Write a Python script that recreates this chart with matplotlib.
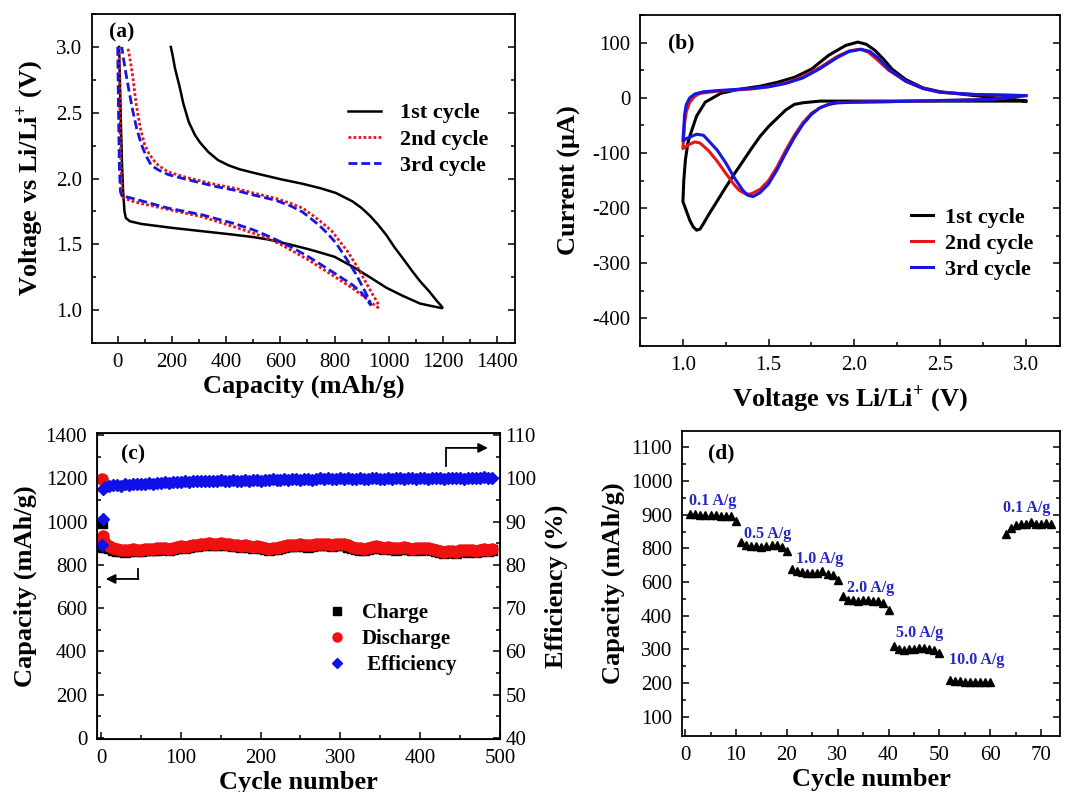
import numpy as np
import matplotlib
matplotlib.use('Agg')
import matplotlib.pyplot as plt
from matplotlib.ticker import MultipleLocator, FixedLocator, FixedFormatter
from matplotlib.lines import Line2D

plt.rcParams['font.family'] = ['Liberation Serif', 'DejaVu Serif']
plt.rcParams['mathtext.fontset'] = 'custom'
plt.rcParams['mathtext.rm'] = 'Liberation Serif'
plt.rcParams['mathtext.bf'] = 'Liberation Serif:bold'
plt.rcParams['axes.unicode_minus'] = False

# (a) charge/discharge profiles
cap_1st = [5, 8, 12, 16, 20, 25, 30, 45, 87, 200, 310, 420, 500, 560, 632, 700, 743, 800, 867, 930, 991, 1050, 1115, 1160, 1196,
           1198, 1190, 1177, 1150, 1115, 1085, 1053, 1020, 991, 960, 929, 900, 867, 805, 750, 682, 600, 508, 450, 409, 370,
           335, 305, 285, 262, 242, 228, 217, 211, 204, 196]
volt_1st = [3.00, 2.75, 2.40, 2.10, 1.90, 1.75, 1.70, 1.675, 1.655, 1.625, 1.60, 1.575, 1.555, 1.535, 1.50, 1.465, 1.44, 1.405,
            1.33, 1.25, 1.17, 1.11, 1.05, 1.03, 1.015,
            1.02, 1.04, 1.07, 1.14, 1.22, 1.30, 1.39, 1.48, 1.57, 1.65, 1.72, 1.775, 1.825, 1.89, 1.925, 1.96, 1.995, 2.04, 2.07,
            2.10, 2.14, 2.20, 2.27, 2.33, 2.43, 2.57, 2.70, 2.79, 2.84, 2.92, 3.00]
cap_2nd = [5, 8, 12, 15, 20, 50, 87, 186, 310, 434, 520, 558, 600, 644, 700, 743, 800, 867, 910, 940, 960,
           962, 955, 940, 929, 905, 880, 850, 820, 790, 756, 720, 682, 640, 582, 500, 434, 360, 310, 250, 186, 150, 136,
           115, 99, 85, 74, 64, 56, 46, 37]
volt_2nd = [3.0, 2.5, 2.1, 1.9, 1.855, 1.83, 1.81, 1.765, 1.71, 1.63, 1.57, 1.54, 1.50, 1.45, 1.385, 1.33, 1.255, 1.165,
            1.10, 1.05, 1.02,
            1.04, 1.07, 1.12, 1.16, 1.25, 1.34, 1.44, 1.52, 1.60, 1.66, 1.72, 1.775, 1.81, 1.85, 1.89, 1.925, 1.955, 1.98,
            2.01, 2.05, 2.10, 2.13, 2.19, 2.26, 2.37, 2.49, 2.63, 2.77, 2.90, 3.0]
cap_3rd = [0, 3, 6, 10, 15, 62, 186, 310, 434, 500, 558, 600, 644, 700, 743, 800, 867, 900, 920, 929, 933,
           930, 925, 910, 880, 850, 805, 775, 743, 710, 682, 640, 582, 500, 434, 360, 310, 250, 186, 150, 124, 105, 87,
           70, 56, 43, 31, 22, 15]
volt_3rd = [3.0, 2.5, 2.1, 1.9, 1.87, 1.845, 1.775, 1.725, 1.655, 1.61, 1.56, 1.52, 1.475, 1.41, 1.355, 1.28, 1.19,
            1.13, 1.08, 1.05, 1.04,
            1.06, 1.09, 1.15, 1.27, 1.37, 1.51, 1.58, 1.645, 1.70, 1.745, 1.79, 1.835, 1.875, 1.91, 1.94, 1.965, 1.995,
            2.03, 2.065, 2.10, 2.17, 2.26, 2.38, 2.51, 2.65, 2.79, 2.90, 3.0]

# (b) cyclic voltammetry
cv_v_1st = [3.0, 2.5, 2.0, 1.8, 1.7, 1.65, 1.6, 1.55, 1.5, 1.45, 1.4, 1.35, 1.3, 1.25, 1.2, 1.15, 1.12, 1.1, 1.08, 1.06,
            1.04, 1.02, 1.0,
            1.005, 1.015, 1.03, 1.045, 1.08, 1.13, 1.22, 1.32, 1.45, 1.55, 1.65, 1.75, 1.85, 1.95, 2.02, 2.07, 2.12, 2.17,
            2.22, 2.3, 2.4, 2.5, 2.7, 2.9, 3.0]
cv_i_1st = [-6, -6, -6, -6, -9, -12, -22, -37, -52, -70, -92, -115, -138, -162, -187, -212, -228, -238, -240, -234,
            -222, -205, -188,
            -150, -111, -80, -65, -33, -8, 8, 15, 21, 28, 37, 52, 77, 95, 101, 97, 86, 70, 52, 33, 18, 11, 4, -2, -6]
cv_v_2nd = [3.0, 2.8, 2.5, 2.2, 2.0, 1.9, 1.85, 1.8, 1.75, 1.7, 1.65, 1.6, 1.55, 1.5, 1.45, 1.4, 1.37, 1.33, 1.3, 1.25,
            1.2, 1.15, 1.1, 1.07, 1.04, 1.02, 1.0,
            1.005, 1.01, 1.02, 1.04, 1.07, 1.1, 1.2, 1.3, 1.4, 1.5, 1.6, 1.7, 1.8, 1.9, 1.97, 2.03, 2.08, 2.13, 2.2, 2.3,
            2.4, 2.5, 2.7, 3.0]
cv_i_2nd = [4, -3, -5, -7, -8, -9, -12, -18, -28, -45, -68, -95, -125, -150, -166, -174, -175, -168, -158, -137,
            -115, -96, -82, -80, -84, -88, -92,
            -70, -45, -25, -8, 3, 8, 12, 14, 16, 20, 27, 38, 55, 75, 85, 88, 83, 70, 50, 30, 17, 10, 6, 4]
cv_v_3rd = [3.0, 2.8, 2.5, 2.2, 2.0, 1.9, 1.85, 1.8, 1.75, 1.7, 1.65, 1.6, 1.55, 1.5, 1.45, 1.41, 1.38, 1.35, 1.3, 1.25,
            1.2, 1.15, 1.12, 1.08, 1.05, 1.02, 1.0,
            1.005, 1.01, 1.02, 1.04, 1.07, 1.12, 1.2, 1.3, 1.4, 1.5, 1.6, 1.7, 1.8, 1.9, 1.97, 2.04, 2.09, 2.14, 2.2, 2.3,
            2.4, 2.5, 2.7, 3.0]
cv_i_3rd = [4, -3, -5, -7, -8, -9, -12, -18, -30, -48, -72, -100, -130, -156, -172, -179, -177, -168, -145, -118,
            -95, -78, -68, -66, -70, -74, -78,
            -55, -30, -12, 0, 7, 11, 13, 15, 17, 20, 26, 36, 53, 73, 84, 88, 84, 72, 52, 30, 17, 10, 6, 4]

# (c) long cycling
cycles_c = [1, 2, 3] + list(range(5, 491, 5))
discharge = [1195, 935, 915,
             900, 888, 880, 874, 870, 868, 870, 872, 869, 871,
             873, 875, 872, 876, 879, 877, 874, 879, 883, 886,
             884, 889, 891, 893, 896, 899, 901, 898, 896, 900,
             897, 899, 894, 892, 889, 891, 887, 884, 886, 882,
             879, 874, 877, 880, 884, 887, 891, 894, 892, 896,
             893, 890, 894, 897, 895, 898, 896, 893, 897, 899,
             895, 890, 884, 880, 876, 874, 879, 883, 886, 884,
             880, 883, 879, 876, 880, 882, 877, 874, 878, 876,
             880, 877, 872, 868, 864, 861, 863, 866, 862, 868,
             871, 867, 870, 866, 869, 873, 870, 872]
charge = [995, 885, 890,
          884, 876, 871, 866, 864, 862, 865, 867, 864, 866,
          868, 870, 867, 871, 874, 872, 869, 874, 878, 881,
          879, 884, 886, 888, 891, 894, 896, 893, 891, 895,
          892, 894, 889, 887, 884, 886, 882, 879, 881, 877,
          874, 869, 872, 875, 879, 882, 886, 889, 887, 891,
          888, 885, 889, 892, 890, 893, 891, 888, 892, 894,
          890, 885, 879, 875, 871, 869, 874, 878, 881, 879,
          875, 878, 874, 871, 875, 877, 872, 869, 873, 871,
          875, 872, 867, 863, 859, 856, 858, 861, 857, 863,
          866, 862, 865, 861, 864, 868, 865, 867]
efficiency = [84.5, 90.5, 97.6,
              98.0, 98.2, 98.4, 98.5, 98.3, 98.6, 98.5, 98.7, 98.6, 98.8,
              98.7, 98.9, 98.8, 99.0, 98.9, 99.1, 99.0, 99.2, 99.1, 99.2,
              99.3, 99.2, 99.4, 99.3, 99.5, 99.4, 99.3, 99.5, 99.4, 99.6,
              99.5, 99.4, 99.6, 99.5, 99.4, 99.6, 99.5, 99.7, 99.6, 99.5,
              99.7, 99.6, 99.8, 99.7, 99.6, 99.8, 99.7, 99.9, 99.8, 99.7,
              99.9, 99.8, 99.7, 99.9, 100.0, 99.8, 100.1, 99.9, 99.8, 100.0,
              99.9, 100.1, 99.9, 99.8, 100.0, 99.9, 99.8, 100.0, 100.1, 99.9,
              99.8, 100.0, 99.9, 100.1, 100.0, 99.8, 100.0, 100.2, 99.9, 100.0,
              100.1, 99.9, 100.0, 100.2, 100.0, 99.9, 100.1, 100.0, 100.2, 100.1,
              99.9, 100.1, 100.2, 100.0, 100.1, 100.3, 100.1, 100.2]

# (d) rate capability
rate_cycles = [1, 2, 3, 4, 5, 6, 7, 8, 9, 10,
               11, 12, 13, 14, 15, 16, 17, 18, 19, 20,
               21, 22, 23, 24, 25, 26, 27, 28, 29, 30,
               31, 32, 33, 34, 35, 36, 37, 38, 39, 40,
               41, 42, 43, 44, 45, 46, 47, 48, 49, 50,
               52, 53, 54, 55, 56, 57, 58, 59, 60,
               63, 64, 65, 66, 67, 68, 69, 70, 71, 72]
rate_capacity = [902, 902, 900, 898, 898, 898, 895, 895, 896, 880,
                 820, 810, 808, 806, 805, 808, 809, 809, 805, 787,
                 680, 664, 658, 654, 654, 654, 664, 650, 644, 614,
                 514, 494, 490, 488, 490, 490, 488, 484, 478, 432,
                 310, 300, 298, 300, 300, 303, 303, 300, 298, 288,
                 209, 206, 205, 204, 203, 203, 204, 204, 202,
                 842, 862, 870, 872, 872, 877, 872, 872, 875, 872]
rate_labels = ['0.1 A/g', '0.5 A/g', '1.0 A/g', '2.0 A/g', '5.0 A/g', '10.0 A/g', '0.1 A/g']
rate_label_x = [5.5, 16.3, 26.4, 36.5, 46.1, 57.4, 67.1]
rate_label_y = [940, 842, 736, 564, 348, 267, 920]
# tick labels on (d) are not evenly spaced in value
d_tick_values = [100, 200, 300, 400, 600, 800, 900, 1000, 1100]

fig = plt.figure(figsize=(10.68, 7.92), dpi=100)
ax_a = fig.add_axes([0.0861, 0.5669, 0.3960, 0.4154])
ax_b = fig.add_axes([0.5993, 0.5631, 0.3933, 0.4179])
ax_c = fig.add_axes([0.0908, 0.0669, 0.3773, 0.3864])
ax_d = fig.add_axes([0.6386, 0.0707, 0.3539, 0.3851])

tick_fs = 15
label_fs = 19
leg_fs = 16


def style(ax, right=True):
    ax.tick_params(which='both', direction='in', labelsize=tick_fs, width=1.1, right=right, top=False)
    ax.tick_params(which='major', length=5, pad=7)
    ax.tick_params(which='minor', length=3)
    for s in ax.spines.values():
        s.set_linewidth(1.3)


# panel a
ax_a.plot(cap_1st, volt_1st, color='black', lw=1.8, label='1st cycle')
ax_a.plot(cap_2nd, volt_2nd, color='#e8141c', lw=2.0, dashes=(1.0, 0.8), label='2nd cycle')
ax_a.plot(cap_3rd, volt_3rd, color='#1616e0', lw=2.0, dashes=(3.2, 1.4), label='3rd cycle')
ax_a.set_xlim(-95, 1465)
ax_a.set_ylim(0.75, 3.25)
ax_a.xaxis.set_major_locator(MultipleLocator(200))
ax_a.xaxis.set_minor_locator(MultipleLocator(100))
ax_a.yaxis.set_major_locator(MultipleLocator(0.5))
ax_a.yaxis.set_minor_locator(MultipleLocator(0.25))
style(ax_a)
ax_a.set_xlabel('Capacity (mAh/g)', fontsize=label_fs, fontweight='bold', labelpad=2)
ax_a.set_ylabel('Voltage vs Li/Li$^{\\mathbf{+}}$ (V)', fontsize=label_fs, fontweight='bold', labelpad=8)
ax_a.text(0.041, 0.945, '(a)', transform=ax_a.transAxes, fontsize=15.5, fontweight='bold', va='center')
ax_a.legend(loc='upper left', bbox_to_anchor=(0.605, 0.73), frameon=False,
            prop={'weight': 'bold', 'size': leg_fs}, handlelength=1.5, handletextpad=0.85,
            labelspacing=0.25, borderpad=0, borderaxespad=0)

# panel b
ax_b.plot(cv_v_1st, cv_i_1st, color='black', lw=2.2, label='1st cycle')
ax_b.plot(cv_v_2nd, cv_i_2nd, color='#e8141c', lw=2.2, label='2nd cycle')
ax_b.plot(cv_v_3rd, cv_i_3rd, color='#1616e0', lw=2.2, label='3rd cycle')
ax_b.set_xlim(0.75, 3.2)
ax_b.set_ylim(-450, 150)
ax_b.xaxis.set_major_locator(MultipleLocator(0.5))
ax_b.xaxis.set_minor_locator(MultipleLocator(0.25))
ax_b.yaxis.set_major_locator(MultipleLocator(100))
ax_b.yaxis.set_minor_locator(MultipleLocator(50))
style(ax_b)
ax_b.set_xlabel('Voltage vs Li/Li$^{\\mathbf{+}}$ (V)', fontsize=label_fs, fontweight='bold', labelpad=6)
ax_b.set_ylabel('Current (\u03bcA)', fontsize=label_fs, fontweight='bold', labelpad=8)
ax_b.text(0.066, 0.913, '(b)', transform=ax_b.transAxes, fontsize=15.5, fontweight='bold', va='center')
ax_b.legend(loc='upper left', bbox_to_anchor=(0.645, 0.42), frameon=False,
            prop={'weight': 'bold', 'size': leg_fs}, handlelength=1.0, handletextpad=0.55,
            labelspacing=0.25, borderpad=0, borderaxespad=0)

# panel c
ax_c2 = ax_c.twinx()
ax_c.plot(cycles_c, charge, 's', color='black', ms=6.5, ls='none', label='Charge')
ax_c.plot(cycles_c, discharge, 'o', color='#f01010', ms=8, ls='none', label='Discharge')
ax_c2.plot(cycles_c, efficiency, 'D', color='#1010e8', ms=6.5, ls='none', label=' Efficiency')
ax_c.set_xlim(-5, 500)
ax_c.set_ylim(-5, 1410)
ax_c2.set_ylim(40 - 5 / 20, 40 + 1410 / 20)
ax_c.xaxis.set_major_locator(MultipleLocator(100))
ax_c.xaxis.set_minor_locator(MultipleLocator(50))
ax_c.yaxis.set_major_locator(MultipleLocator(200))
ax_c.yaxis.set_minor_locator(MultipleLocator(100))
ax_c2.yaxis.set_major_locator(MultipleLocator(10))
ax_c2.yaxis.set_minor_locator(MultipleLocator(5))
style(ax_c, right=False)
ax_c2.tick_params(which='both', direction='in', labelsize=tick_fs, width=1.1)
ax_c2.tick_params(which='major', length=5, pad=4)
ax_c2.tick_params(which='minor', length=3)
ax_c.set_xlabel('Cycle number', fontsize=label_fs, fontweight='bold', labelpad=2)
ax_c.set_ylabel('Capacity (mAh/g)', fontsize=label_fs, fontweight='bold', labelpad=6)
ax_c2.set_ylabel('Efficiency (%)', fontsize=label_fs, fontweight='bold', labelpad=6)
ax_c.text(0.059, 0.93, '(c)', transform=ax_c.transAxes, fontsize=15.5, fontweight='bold', va='center')
# arrows pointing to the axes
ax_c.plot([47, 47], [781, 735], color='black', lw=1.3)
ax_c.annotate('', xy=(6, 735), xytext=(47, 735),
              arrowprops=dict(arrowstyle='-|>', color='black', lw=1.3, mutation_scale=14, shrinkA=0, shrinkB=0))
ax_c.plot([433, 433], [1259, 1341], color='black', lw=1.3)
ax_c.annotate('', xy=(485, 1341), xytext=(433, 1341),
              arrowprops=dict(arrowstyle='-|>', color='black', lw=1.3, mutation_scale=14, shrinkA=0, shrinkB=0))
handles = [Line2D([], [], marker='s', color='black', ls='none', ms=5.5),
           Line2D([], [], marker='o', color='#f01010', ls='none', ms=6.5),
           Line2D([], [], marker='D', color='#1010e8', ls='none', ms=5.5)]
ax_c.legend(handles, ['Charge', 'Discharge', ' Efficiency'], loc='upper left', bbox_to_anchor=(0.57, 0.445),
            frameon=False, prop={'weight': 'bold', 'size': 15}, handlelength=1.0, handletextpad=0.7,
            labelspacing=0.3, borderpad=0, borderaxespad=0)

# panel d
idx_vals = [-1000] + d_tick_values + [3000]
idx_pos = [-11] + list(range(len(d_tick_values))) + [27]


def to_idx(v):
    return np.interp(v, idx_vals, idx_pos)


def from_idx(p):
    return np.interp(p, idx_pos, idx_vals)


ax_d.set_yscale('function', functions=(to_idx, from_idx))
ax_d.plot(rate_cycles, rate_capacity, '^', color='black', ms=6, ls='none')
for lab, x, y in zip(rate_labels, rate_label_x, rate_label_y):
    ax_d.text(x, y, lab, color='#2626c4', fontsize=11.5, fontweight='bold', ha='center', va='center')
ax_d.set_xlim(-0.6, 73.7)
ax_d.set_ylim(42, 1149)
ax_d.xaxis.set_major_locator(MultipleLocator(10))
ax_d.xaxis.set_minor_locator(MultipleLocator(5))
ax_d.yaxis.set_major_locator(FixedLocator(d_tick_values))
ax_d.yaxis.set_major_formatter(FixedFormatter([str(v) for v in d_tick_values]))
ax_d.yaxis.set_minor_locator(FixedLocator([150, 250, 350, 500, 700, 850, 950, 1050]))
style(ax_d)
ax_d.set_xlabel('Cycle number', fontsize=label_fs, fontweight='bold', labelpad=2)
ax_d.set_ylabel('Capacity (mAh/g)', fontsize=label_fs, fontweight='bold', labelpad=4)
ax_d.text(0.069, 0.925, '(d)', transform=ax_d.transAxes, fontsize=15.5, fontweight='bold', va='center')

fig.savefig('out.png', dpi=100)
